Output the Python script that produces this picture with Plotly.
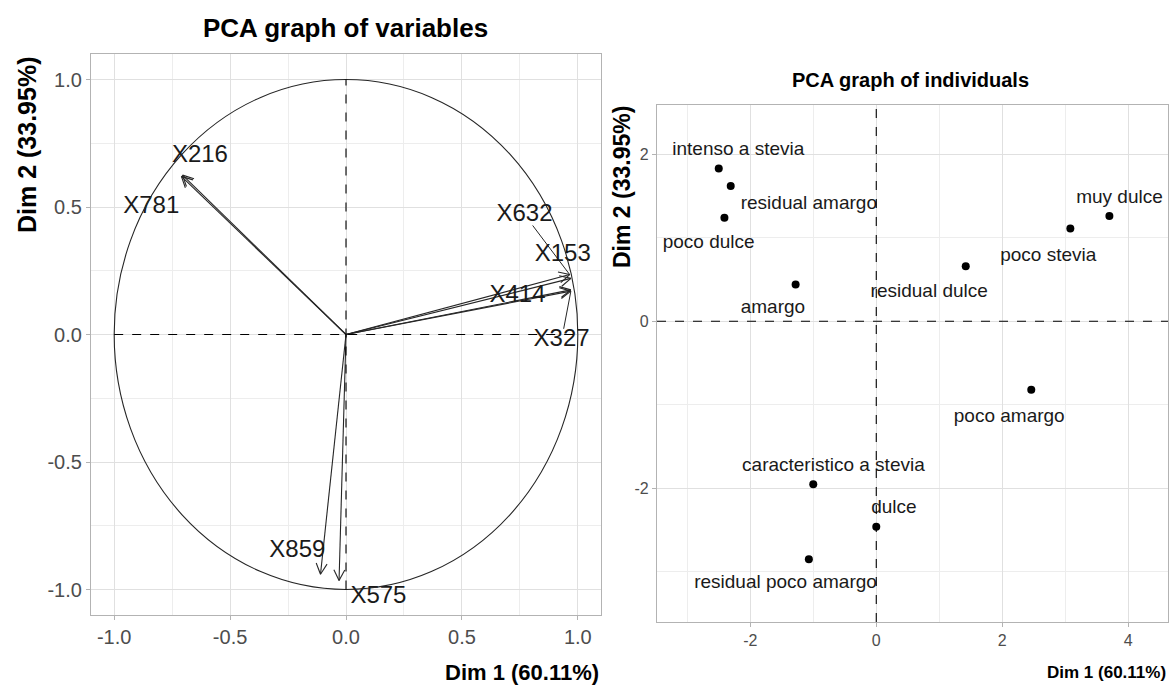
import math
import plotly.graph_objects as go

# ---------------- data ----------------
var_names = ["X216", "X781", "X632", "X153", "X414", "X327", "X859", "X575"]
var_dim1 = [-0.71, -0.705, 0.965, 0.97, 0.97, 0.97, -0.11, -0.03]
var_dim2 = [0.62, 0.625, 0.235, 0.22, 0.175, 0.17, -0.94, -0.965]

ind_names = ["intenso a stevia", "residual amargo", "poco dulce", "amargo",
             "residual dulce", "poco stevia", "muy dulce", "poco amargo",
             "caracteristico a stevia", "dulce", "residual poco amargo"]
ind_dim1 = [-2.50, -2.31, -2.41, -1.28, 1.42, 3.08, 3.70, 2.46, -1.00, 0.00, -1.07]
ind_dim2 = [1.83, 1.62, 1.24, 0.44, 0.66, 1.11, 1.26, -0.82, -1.95, -2.46, -2.85]

var_ticks = [-1.0, -0.5, 0.0, 0.5, 1.0]
var_tick_text = ["-1.0", "-0.5", "0.0", "0.5", "1.0"]
ind_xticks = [-2, 0, 2, 4]
ind_xtick_text = ["-2", "0", "2", "4"]
ind_yticks = [-2, 0, 2]
ind_ytick_text = ["-2", "0", "2"]

title_vars = "PCA graph of variables"
title_ind = "PCA graph of individuals"
xlab = "Dim 1 (60.11%)"
ylab = "Dim 2 (33.95%)"

# ---------------- layout helpers (label placement, repel-like) ----------------
var_label_x = [-0.63, -0.84, 0.77, 0.935, 0.74, 0.93, -0.21, 0.14]
var_label_y = [0.70, 0.50, 0.47, 0.31, 0.15, -0.02, -0.85, -1.03]
leader_vars = ["X632", "X327"]

ind_label_x = [-2.19, -1.07, -2.66, -1.64, 0.84, 2.73, 3.86, 2.11, -0.68, 0.28, -1.44]
ind_label_y = [2.05, 1.40, 0.93, 0.16, 0.35, 0.78, 1.47, -1.15, -1.74, -2.24, -3.14]

W, H = 1174, 685
FONT = "Liberation Sans, Arial, sans-serif"

# pixel boxes of the two panels
L_x0, L_x1, L_y0, L_y1 = 91, 601, 54, 615
R_x0, R_x1, R_y0, R_y1 = 657, 1168, 105, 622
L_range = [-1.1, 1.1]
R_xrange = [-3.48, 4.63]
R_yrange = [-3.60, 2.59]

sx = (L_x1 - L_x0) / (L_range[1] - L_range[0])
sy = (L_y1 - L_y0) / (L_range[1] - L_range[0])

fig = go.Figure()

# arrows: shafts + open heads computed in pixel space
ax_, ay_ = [], []
head_len, head_ang = 12, math.radians(27)
for x, y in zip(var_dim1, var_dim2):
    ax_ += [0, x, None]
    ay_ += [0, y, None]
    dx, dy = x * sx, y * sy
    n = math.hypot(dx, dy)
    ux, uy = dx / n, dy / n
    for s in (1, -1):
        c, si = math.cos(s * head_ang), math.sin(s * head_ang)
        rx, ry = ux * c - uy * si, ux * si + uy * c
        ax_ += [x - head_len * rx / sx, x, None]
        ay_ += [y - head_len * ry / sy, y, None]
fig.add_trace(go.Scatter(x=ax_, y=ay_, mode="lines", xaxis="x", yaxis="y",
                         line=dict(color="#262626", width=1.1), hoverinfo="skip"))

# leader segments from label box edge to their arrow tips
lx, ly = [], []
for nm in leader_vars:
    i = var_names.index(nm)
    tx, ty = var_dim1[i], var_dim2[i]
    cx, cy = var_label_x[i], var_label_y[i]
    hw, hh = len(nm) * 0.6 * 24 / 2, 24 * 0.45
    dxp, dyp = (tx - cx) * sx, (ty - cy) * sy
    t = min(hw / abs(dxp) if dxp else 1e9, hh / abs(dyp) if dyp else 1e9)
    sxp, syp = cx + dxp * t / sx, cy + dyp * t / sy
    lx += [sxp, tx, None]
    ly += [syp, ty, None]
fig.add_trace(go.Scatter(x=lx, y=ly, mode="lines", xaxis="x", yaxis="y",
                         line=dict(color="#262626", width=1), hoverinfo="skip"))

fig.add_trace(go.Scatter(x=var_label_x, y=var_label_y, text=var_names, mode="text",
                         xaxis="x", yaxis="y",
                         textfont=dict(family=FONT, size=24, color="#1a1a1a"),
                         hoverinfo="skip"))

# individuals
fig.add_trace(go.Scatter(x=ind_dim1, y=ind_dim2, mode="markers", xaxis="x2", yaxis="y2",
                         marker=dict(color="black", size=8), hoverinfo="skip"))
fig.add_trace(go.Scatter(x=ind_label_x, y=ind_label_y, text=ind_names, mode="text",
                         xaxis="x2", yaxis="y2",
                         textfont=dict(family=FONT, size=19, color="#1a1a1a"),
                         hoverinfo="skip"))

shapes = [
    dict(type="circle", xref="x", yref="y", x0=-1, x1=1, y0=-1, y1=1,
         line=dict(color="#262626", width=1.1), layer="above"),
    dict(type="line", xref="x", yref="y", x0=-1, x1=1, y0=0, y1=0,
         line=dict(color="black", width=1.1, dash="dash")),
    dict(type="line", xref="x", yref="y", x0=0, x1=0, y0=-1, y1=1,
         line=dict(color="black", width=1.1, dash="dash")),
    dict(type="line", xref="x2 domain", yref="y2", x0=0, x1=1, y0=0, y1=0,
         line=dict(color="black", width=1.1, dash="dash")),
    dict(type="line", xref="x2", yref="y2 domain", x0=0, x1=0, y0=0, y1=1,
         line=dict(color="black", width=1.1, dash="dash")),
]


def axis(domain, rng, tickvals, ticktext, minor_dtick, fsize, anchor):
    return dict(domain=domain, range=rng, tickmode="array", tickvals=tickvals,
                ticktext=ticktext, showgrid=True, gridcolor="#E0E0E0", gridwidth=1.4,
                minor=dict(tickmode="linear", tick0=0, dtick=minor_dtick, showgrid=True,
                           gridcolor="#EDEDED", gridwidth=1),
                zeroline=False, showline=True, mirror=True, linecolor="#B3B3B3",
                linewidth=1.3, ticks="outside", ticklen=4, tickcolor="#B3B3B3",
                tickfont=dict(family=FONT, size=fsize, color="#4D4D4D"),
                anchor=anchor, fixedrange=True)


annotations = [
    dict(text="<b>%s</b>" % title_vars, x=345 / W, y=1 - 28 / H, xref="paper", yref="paper",
         showarrow=False, font=dict(family=FONT, size=26, color="black"),
         xanchor="center", yanchor="middle"),
    dict(text="<b>%s</b>" % title_ind, x=910 / W, y=1 - 80 / H, xref="paper", yref="paper",
         showarrow=False, font=dict(family=FONT, size=20, color="black"),
         xanchor="center", yanchor="middle"),
    dict(text="<b>%s</b>" % xlab, x=601 / W, y=1 - 672 / H, xref="paper", yref="paper",
         showarrow=False, font=dict(family=FONT, size=22, color="black"),
         xanchor="right", yanchor="middle"),
    dict(text="<b>%s</b>" % xlab, x=1168 / W, y=1 - 672 / H, xref="paper", yref="paper",
         showarrow=False, font=dict(family=FONT, size=17, color="black"),
         xanchor="right", yanchor="middle"),
    dict(text="<b>%s</b>" % ylab, x=27 / W, y=1 - 55 / H, xref="paper", yref="paper",
         showarrow=False, textangle=-90, font=dict(family=FONT, size=25, color="black"),
         xanchor="center", yanchor="top"),
    dict(text="<b>%s</b>" % ylab, x=622 / W, y=1 - 104 / H, xref="paper", yref="paper",
         showarrow=False, textangle=-90, font=dict(family=FONT, size=23, color="black"),
         xanchor="center", yanchor="top"),
]

fig.update_layout(
    width=W, height=H, autosize=False,
    margin=dict(l=0, r=0, t=0, b=0),
    paper_bgcolor="white", plot_bgcolor="white",
    showlegend=False,
    xaxis=axis([L_x0 / W, L_x1 / W], L_range, var_ticks, var_tick_text, 0.25, 20, "y"),
    yaxis=axis([1 - L_y1 / H, 1 - L_y0 / H], L_range, var_ticks, var_tick_text, 0.25, 20, "x"),
    xaxis2=axis([R_x0 / W, R_x1 / W], R_xrange, ind_xticks, ind_xtick_text, 1, 16, "y2"),
    yaxis2=axis([1 - R_y1 / H, 1 - R_y0 / H], R_yrange, ind_yticks, ind_ytick_text, 1, 16, "x2"),
    shapes=shapes,
    annotations=annotations,
)

fig.write_html("out.html", config={"displayModeBar": False},
               post_script="document.body.style.margin='0';document.body.style.overflow='hidden';")
